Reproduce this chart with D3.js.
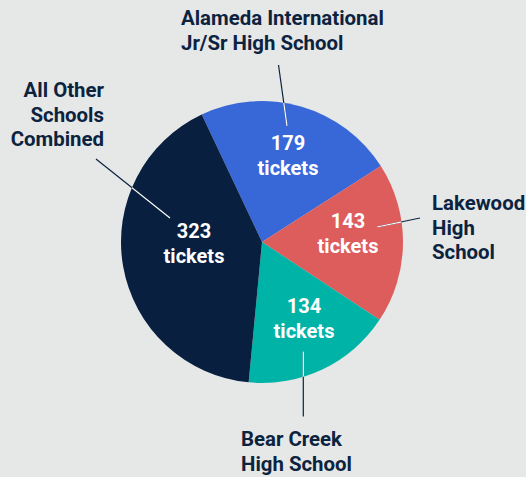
<!DOCTYPE html>
<html>
<head>
<meta charset="utf-8">
<script src="https://cdn.jsdelivr.net/npm/d3@7"></script>
<style>
  html, body { margin: 0; padding: 0; background: #e6e7e7; }
  svg { display: block; font-family: Roboto, "Noto Sans", sans-serif; }
  .name { fill: #0c2340; font-weight: 700; font-size: 20.4px; }
  .value { fill: #ffffff; font-weight: 700; font-size: 20px; }
</style>
</head>
<body>
<div id="chart"></div>
<script>
// data
const schools = ["Alameda International Jr/Sr High School", "Lakewood High School", "Bear Creek High School", "All Other Schools Combined"]
const tickets = [179, 143, 134, 323]
const nameLines = [["Alameda International", "Jr/Sr High School"], ["Lakewood", "High", "School"], ["Bear Creek", "High School"], ["All Other", "Schools", "Combined"]]
const colors = ["#3867d8", "#dc5d5b", "#00b3a7", "#081f3f"]

// container with dimensions
let width = 526,
    height = 477,
    cx = 262,
    cy = 242,
    radius = 141

let svg = d3.select("#chart")
    .append("svg")
    .attr("width", width)
    .attr("height", height)

let g = svg.append("g").attr("transform", `translate(${cx},${cy})`)

let pie = d3.pie()
    .sort(null)
    .value(d => d)
    .startAngle(-25.3 * Math.PI / 180)
    .endAngle((360 - 25.3) * Math.PI / 180)

let arcs = pie(tickets)
let arc = d3.arc().innerRadius(0).outerRadius(radius)

// slices
g.selectAll(".slice")
    .data(arcs)
    .enter()
    .append("path")
    .attr("class", "slice")
    .attr("d", arc)
    .style("fill", (d, i) => colors[i])

// layout of callouts (relative to pie center)
const layout = [
    { value: [26, -92], line: [[16.5, -177], [25, -116]], name: [-81, -217], anchor: "start" },
    { value: [86, -14], line: [[158, -24], [115, -15]], name: [170, -32], anchor: "start" },
    { value: [42, 71], line: [[41.3, 174.5], [41.3, 109.5]], name: [-21, 204], anchor: "start" },
    { value: [-68, -4], line: [[-166, -83], [-92, -24]], name: [-158, -145], anchor: "end" }
]

// leader lines: dark outside the pie, white inside
svg.append("clipPath").attr("id", "inside")
    .append("circle").attr("r", radius)

g.selectAll(".lead")
    .data(layout)
    .enter()
    .append("line")
    .attr("class", "lead")
    .attr("x1", d => d.line[0][0]).attr("y1", d => d.line[0][1])
    .attr("x2", d => d.line[1][0]).attr("y2", d => d.line[1][1])
    .style("stroke", "#0c2340")
    .style("stroke-width", 1.2)

g.append("g").attr("clip-path", "url(#inside)")
    .selectAll(".lead-in")
    .data(layout)
    .enter()
    .append("line")
    .attr("x1", d => d.line[0][0]).attr("y1", d => d.line[0][1])
    .attr("x2", d => d.line[1][0]).attr("y2", d => d.line[1][1])
    .style("stroke", "#ffffff")
    .style("stroke-width", 1.2)

// value labels
let values = g.selectAll(".value")
    .data(arcs)
    .enter()
    .append("text")
    .attr("class", "value")
    .attr("text-anchor", "middle")
    .attr("x", (d, i) => layout[i].value[0])
    .attr("y", (d, i) => layout[i].value[1])

values.append("tspan")
    .attr("x", (d, i) => layout[i].value[0])
    .text(d => d.data)
values.append("tspan")
    .attr("x", (d, i) => layout[i].value[0])
    .attr("dy", 25)
    .text("tickets")

// school names
let names = g.selectAll(".name")
    .data(schools)
    .enter()
    .append("text")
    .attr("class", "name")
    .attr("text-anchor", (d, i) => layout[i].anchor)
    .attr("y", (d, i) => layout[i].name[1])

names.selectAll("tspan")
    .data((d, i) => nameLines[i].map(t => ({ t, i })))
    .enter()
    .append("tspan")
    .attr("x", d => layout[d.i].name[0])
    .attr("dy", (d, j) => j === 0 ? 0 : 24.5)
    .text(d => d.t)
</script>
</body>
</html>
